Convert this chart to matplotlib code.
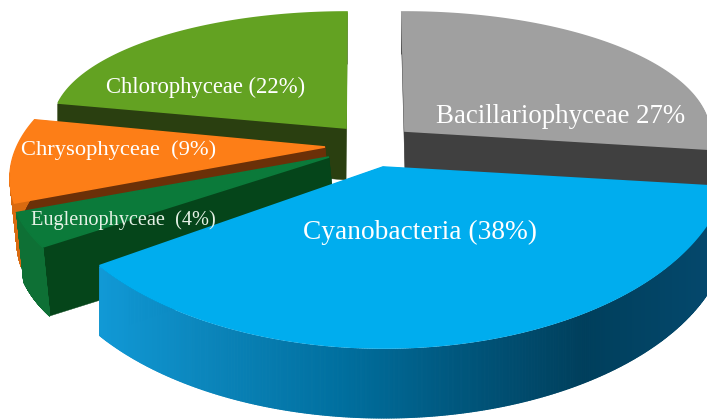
import numpy as np
import matplotlib
matplotlib.use('Agg')
import matplotlib.pyplot as plt
from matplotlib.collections import PolyCollection
from matplotlib.colors import LinearSegmentedColormap
from matplotlib.patches import Polygon

names = ['Bacillariophyceae', 'Cyanobacteria', 'Euglenophyceae', 'Chrysophyceae', 'Chlorophyceae']
pct = [27, 38, 4, 9, 22]
labels = ['Bacillariophyceae 27%', 'Cyanobacteria (38%)', 'Euglenophyceae  (4%)',
          'Chrysophyceae  (9%)', 'Chlorophyceae (22%)']

# look of each slice in picture pixels: apex, ellipse centre, radii, turn, extrusion
geom = {
    'Bacillariophyceae': dict(apex=(405, 131), c=(405, 135), a=305, b=123, rot=-0.6, d=(0, 42)),
    'Cyanobacteria': dict(apex=(383, 167), c=(384, 158), a=345, b=190, rot=1.5, d=(0, 70)),
    'Euglenophyceae': dict(apex=(329, 157), c=(328, 183), a=318, b=145, rot=9.8, d=(7, 69)),
    'Chrysophyceae': dict(apex=(325, 147), c=(325, 178), a=315, b=150, rot=12, d=(7, 64)),
    'Chlorophyceae': dict(apex=(346, 128), c=(347, 124), a=294, b=112, rot=0, d=(0, 52)),
}
top_col = {'Bacillariophyceae': '#a0a0a0', 'Cyanobacteria': '#00adee', 'Euglenophyceae': '#0b7a3a',
           'Chrysophyceae': '#fd7e17', 'Chlorophyceae': '#63a222'}
edge_col = {'Bacillariophyceae': '#404040', 'Cyanobacteria': '#004a6b', 'Euglenophyceae': '#05451a',
            'Chrysophyceae': '#6b3008', 'Chlorophyceae': '#2a3f10'}
rim_col = {'Bacillariophyceae': ['#404040', '#404040'],
           'Cyanobacteria': ['#1199d6', '#0a83b8', '#006f9f', '#00567c', '#003f5c', '#04486c'],
           'Euglenophyceae': ['#0e7035', '#0b6a30'],
           'Chrysophyceae': ['#d96a10', '#d96a10'],
           'Chlorophyceae': ['#2a3f10', '#2a3f10']}
text_pos = {'Bacillariophyceae': (561, 116, 19.4), 'Cyanobacteria': (420, 232, 19.7),
            'Euglenophyceae': (123.5, 220, 14.6), 'Chrysophyceae': (119, 150, 16.2),
            'Chlorophyceae': (206, 87, 16.3)}
draw_order = ['Bacillariophyceae', 'Chlorophyceae', 'Chrysophyceae', 'Euglenophyceae', 'Cyanobacteria']

fig = plt.figure(figsize=(7.07, 4.19), dpi=100)
ax = fig.add_axes([0, 0, 1, 1])
ax.set_xlim(0, 707)
ax.set_ylim(419, 0)
ax.axis('off')

starts = np.cumsum([0] + pct[:-1]) * 3.6
sweeps = np.array(pct) * 3.6


def arc_points(g, t0, t1, n=500):
    t = np.radians(np.linspace(t0, t1, n) + g['rot'])
    return np.column_stack([g['c'][0] + g['a'] * np.sin(t), g['c'][1] - g['b'] * np.cos(t)])


for name in draw_order:
    i = names.index(name)
    g = geom[name]
    pts = arc_points(g, starts[i], starts[i] + sweeps[i])
    apex = np.array(g['apex'], float)
    d = np.array(g['d'], float)

    # inner walls
    for p in (pts[0], pts[-1]):
        ax.add_patch(Polygon([apex, p, p + d, apex + d], closed=True, fc=edge_col[name], ec=edge_col[name], lw=0.3))

    # outer wall, shaded across the picture
    cmap = LinearSegmentedColormap.from_list('rim', rim_col[name])
    quads = [[pts[j] + d * 0.02, pts[j + 1] + d * 0.02, pts[j + 1] + d, pts[j] + d] for j in range(len(pts) - 1)]
    shade = np.clip((pts[:-1, 0] - 98) / (707 - 98), 0, 1)
    cols = cmap(shade)
    ax.add_collection(PolyCollection(quads, facecolors=cols, edgecolors=cols, linewidths=0.8))

    # top face
    ax.add_patch(Polygon(np.vstack([apex, pts]), closed=True, fc=top_col[name], ec=top_col[name], lw=1.2))

for name, txt in zip(names, labels):
    x, y, size = text_pos[name]
    col = '#e6f2e6' if name == 'Euglenophyceae' else 'white'
    ax.text(x, y, txt, color=col, fontsize=size, family='Liberation Serif', ha='center', va='center')

fig.savefig('out.png', dpi=100)
